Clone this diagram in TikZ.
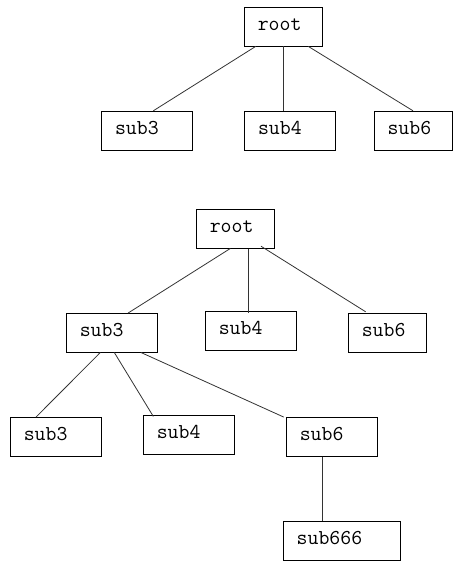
\documentclass[tikz,border=0pt]{standalone}
\usepackage{fontspec}
\begin{document}
\begin{tikzpicture}[x=1pt,y=-1pt,
    box/.style={draw, rectangle, font=\ttfamily\fontsize{21.2}{24}\selectfont,
      minimum height=39pt, inner xsep=13.5pt, inner ysep=0pt, align=left,
      text height=12.9pt, text depth=5pt},
    wide/.style={box, text width=64pt},
    narrow/.style={box, text width=51pt},
    widest/.style={box, text width=90pt},
    edge/.style={draw=black!80, line width=0.8pt}]
    \useasboundingbox (0,0) rectangle (462,569);

    % first tree
    \node (rootA) [narrow] at (283.3,26.7) {root};
    \node (subA3) [wide] at (147,130.5) {sub3};
    \node (subA4) [wide] at (290,130.5) {sub4};
    \node (subA6) [narrow] at (413,130.5) {sub6};

    \draw [edge] ([xshift=-27.6pt]rootA.south) -- ([xshift=6.3pt]subA3.north);
    \draw [edge] ([xshift=0.4pt]rootA.south) -- ([xshift=-6.3pt]subA4.north);
    \draw [edge] ([xshift=25pt]rootA.south) -- (subA6.north);

    % second tree
    \node (rootB) [narrow] at (235.3,228.8) {root};
    \node (subB3) [wide] at (111.8,332.8) {sub3};
    \node (subB4) [wide] at (250.8,330.8) {sub4};
    \node (subB6) [narrow] at (387.3,332.8) {sub6};
    \node (subC3) [wide] at (55.8,436.8) {sub3};
    \node (subC4) [wide] at (188.8,434.7) {sub4};
    \node (subC6) [wide] at (331.8,436.8) {sub6};
    \node (subC666) [widest] at (341.7,540.7) {sub666};

    \draw [edge] ([xshift=-5pt]rootB.south) -- ([xshift=16.2pt]subB3.north);
    \draw [edge] ([xshift=13pt]rootB.south) -- ([xshift=-2.5pt,yshift=-2pt]subB4.north);
    \draw [edge] ([xshift=25.7pt,yshift=2.3pt]rootB.south) -- ([xshift=-21.6pt,yshift=1.3pt]subB6.north);
    \draw [edge] ([xshift=-11.5pt]subB3.south) -- ([xshift=-19.8pt]subC3.north);
    \draw [edge] ([xshift=2.5pt]subB3.south) -- ([xshift=-35.5pt,yshift=-1.4pt]subC4.north);
    \draw [edge] ([xshift=29.2pt]subB3.south) -- ([xshift=-2.3pt]subC6.north west);
    \draw [edge] ([xshift=-9.5pt]subC6.south) -- ([xshift=-19.4pt]subC666.north);
\end{tikzpicture}
\end{document}
